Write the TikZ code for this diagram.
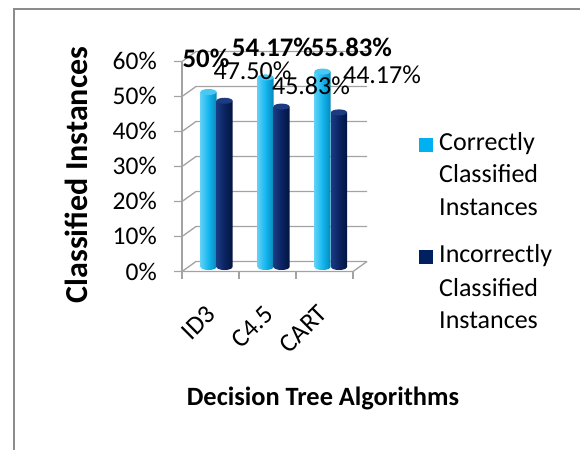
\documentclass[tikz,border=0pt]{standalone}
\usepackage{fontspec}
\setmainfont{Carlito}
\definecolor{framegray}{HTML}{8C8C8C}
\definecolor{gridgray}{HTML}{A3A3A3}
\definecolor{lightL}{HTML}{5FD0F6}
\definecolor{lightM}{HTML}{12B6EF}
\definecolor{lightR}{HTML}{0787B8}
\definecolor{lightT}{HTML}{4AC8F4}
\definecolor{lightKey}{HTML}{00B0F0}
\definecolor{darkL}{HTML}{1C3A82}
\definecolor{darkM}{HTML}{0A2462}
\definecolor{darkR}{HTML}{02143E}
\definecolor{darkT}{HTML}{1D3B80}
\definecolor{darkKey}{HTML}{002060}

% cylinder: #1 = x of axis, #2 = value in percent, #3 = colour prefix
\newcommand{\cylbar}[3]{%
  \pgfmathsetmacro{\ytop}{183+3.5*#2}%
  \shade[left color=#3L, right color=#3R, middle color=#3M]
    (#1-8,\ytop) -- (#1-8,183)
    arc[start angle=180, end angle=360, x radius=8, y radius=3]
    -- (#1+8,\ytop) -- cycle;
  \fill[#3T] (#1,\ytop) ellipse [x radius=8, y radius=3];
}

\tikzset{
  gridline/.style={gridgray, line width=1.3pt},
  ticklbl/.style={font=\fontsize{25.5}{30}\selectfont, anchor=base east, inner sep=0pt},
  catlbl/.style={font=\fontsize{26}{30}\selectfont, anchor=base east, rotate=45, inner sep=0pt},
  boldval/.style={font=\fontsize{26.8}{31}\selectfont\bfseries, anchor=base, inner sep=0pt},
  plainval/.style={font=\fontsize{26}{31}\selectfont, anchor=base, inner sep=0pt},
  keytext/.style={font=\fontsize{26}{31}\selectfont, anchor=base west, inner sep=0pt},
  keybox/.style={minimum size=14pt, inner sep=0pt},
}

\begin{document}
\begin{tikzpicture}[x=1pt, y=1pt]
\useasboundingbox (0,0) rectangle (580,450);
% outer frame (left and top edges)
\draw[framegray, line width=2pt] (14,0) -- (14,441) -- (580,441);

% back wall gridlines and side-wall diagonals
\foreach \k in {0,...,6} {
  \pgfmathsetmacro{\yf}{178.5+35*\k}
  \draw[gridline] (174,\yf) -- (182,\yf) -- (196,\yf+10) -- (367,\yf+10);
}
% floor front edge and category ticks
\draw[gridline] (182,178.5) -- (353,178.5) -- (367,188.5);
\foreach \x in {182,239,296,353}
  \draw[gridline] (\x,178.5) -- (\x,171);
% vertical axis
\draw[gridline] (182,171) -- (182,388.5);

% value axis labels
\foreach \k/\t in {0/0\%,1/10\%,2/20\%,3/30\%,4/40\%,5/50\%,6/60\%}
  \node[ticklbl] (yl\k) at (157,178.5+35*\k-8.5) {\t};

% bars
\cylbar{208.5}{50}{light}
\cylbar{224.5}{47.5}{dark}
\cylbar{265.5}{54.17}{light}
\cylbar{281.5}{45.83}{dark}
\cylbar{322.5}{55.83}{light}
\cylbar{339}{44.17}{dark}

% data labels
\node[boldval] (v1) at (206,382) {50\%};
\node[boldval] (v2) at (272.5,393) {54.17\%};
\node[boldval] (v3) at (351.5,393) {55.83\%};
\node[plainval] (w1) at (252.5,370) {47.50\%};
\node[plainval] (w2) at (311,355) {45.83\%};
\node[plainval] (w3) at (382,366) {44.17\%};

% category labels
\node[catlbl] (c1) at (217,134) {ID3};
\node[catlbl] (c2) at (275,134) {C4.5};
\node[catlbl] (c3) at (329,135) {CART};

% axis titles
\node[font=\fontsize{32}{38}\selectfont\bfseries, rotate=90, anchor=base, inner sep=0pt]
  (ytitle) at (87,275) {Classified Instances};
\node[font=\fontsize{26.4}{31}\selectfont\bfseries, anchor=base, inner sep=0pt]
  (xtitle) at (323,45) {Decision Tree Algorithms};

% legend
\node[keybox, fill=lightKey] (k1) at (425.5,305) {};
\node[keytext] (k1a) at (439,299) {Correctly};
\node[keytext] (k1b) at (439,267) {Classified};
\node[keytext] (k1c) at (439,234) {Instances};
\node[keybox, fill=darkKey] (k2) at (425.5,193) {};
\node[keytext] (k2a) at (439,187) {Incorrectly};
\node[keytext] (k2b) at (439,154) {Classified};
\node[keytext] (k2c) at (439,122) {Instances};
\end{tikzpicture}
\end{document}
